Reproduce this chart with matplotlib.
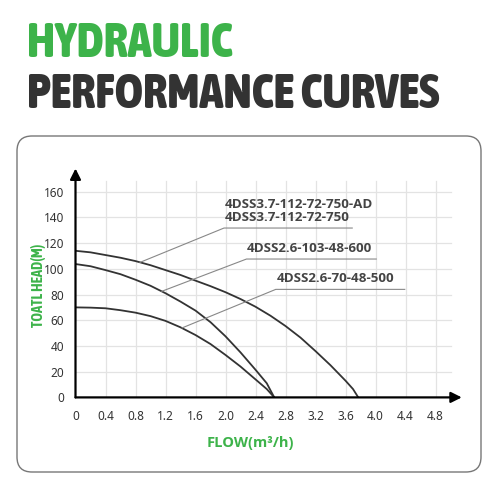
import numpy as np
import matplotlib
matplotlib.use('Agg')
import matplotlib.pyplot as plt
from matplotlib import font_manager
from matplotlib.font_manager import FontProperties
from matplotlib.textpath import TextPath
from matplotlib.patches import FancyBboxPatch

flow_a = [0, 0.2, 0.4, 0.6, 0.8, 1.0, 1.2, 1.4, 1.6, 1.8, 2.0, 2.2, 2.4, 2.6, 2.8, 3.0, 3.2, 3.4, 3.6, 3.7, 3.77]
head_a = [114, 112.8, 110.7, 108.6, 106, 102.8, 99, 95.2, 90.8, 86.5, 81.8, 76.5, 70.5, 63.5, 55.5, 46.5, 36, 25, 13, 6.5, 0]
flow_b = [0, 0.2, 0.4, 0.6, 0.8, 1.0, 1.2, 1.4, 1.6, 1.8, 2.0, 2.2, 2.4, 2.55, 2.65]
head_b = [103.7, 102, 99, 95.8, 91.5, 86.8, 81, 74.5, 67.5, 58.5, 47.5, 35, 21.5, 11, 0]
flow_c = [0, 0.2, 0.4, 0.6, 0.8, 1.0, 1.2, 1.4, 1.6, 1.8, 2.0, 2.2, 2.4, 2.55, 2.65]
head_c = [70, 69.8, 69.3, 67.8, 65.9, 63.2, 59.5, 54.5, 48.5, 41.5, 33, 24, 14, 6.5, 0]

labels = ['4DSS3.7-112-72-750-AD\n4DSS3.7-112-72-750', '4DSS2.6-103-48-600', '4DSS2.6-70-48-500']
lead_start = [(0.86, 105), (1.15, 82.5), (1.42, 54)]
lead_elbow = [(1.98, 131.7), (2.28, 107.6), (2.67, 84)]
lead_end = [3.69, 4.01, 4.39]

x_ticks = [0, 0.4, 0.8, 1.2, 1.6, 2.0, 2.4, 2.8, 3.2, 3.6, 4.0, 4.4, 4.8]
x_ticklabels = ['0', '0.4', '0.8', '1.2', '1.6', '2.0', '2.4', '2.8', '3.2', '3.6', '4.0', '4.4', '4.8']
y_ticks = [0, 20, 40, 60, 80, 100, 120, 140, 160]

green = '#3db34a'
dark = '#333333'


def wt(w):
    if isinstance(w, str):
        return font_manager.weight_dict.get(w, 400)
    return w


def pick_family(cands, min_weight=600):
    for c in cands:
        for f in font_manager.fontManager.ttflist:
            if f.name == c and wt(f.weight) >= min_weight:
                return c
    return 'DejaVu Sans'


def text_len_px(s, fam, weight, size):
    tp = TextPath((0, 0), s, size=size, prop=FontProperties(family=fam, weight=weight))
    return tp.get_extents().width * 100 / 72


# condensed bold for the title if there is one, else Roboto
title_fam = None
for f in font_manager.fontManager.ttflist:
    if ('Condensed' in f.name or 'Narrow' in f.name) and wt(f.weight) >= 700:
        title_fam = f.name
        break
if title_fam is None:
    title_fam = pick_family(['Roboto', 'Liberation Sans', 'DejaVu Sans'], 700)
label_fam = pick_family(['Noto Sans', 'Open Sans', 'Lato', 'Roboto'], 600)

fig = plt.figure(figsize=(5, 5), dpi=100)
r = fig.canvas.get_renderer()

# titles: fit the width of "HYDRAULIC" to the reference
t1 = fig.text(27/500, 1-43.5/500, 'HYDRAULIC', color=green, fontsize=30, fontweight='heavy',
              family=title_fam, ha='left', va='center')
t2 = fig.text(27/500, 1-95/500, 'PERFORMANCE CURVES', color=dark, fontsize=30, fontweight='heavy',
              family=title_fam, ha='left', va='center')
w1 = t1.get_window_extent(r).width
w2 = t2.get_window_extent(r).width
size = 30 * min(206 / w1, 421 / w2)
t1.set_fontsize(size)
t2.set_fontsize(size)

# rounded frame
frame = FancyBboxPatch((17/500, 1-472/500), (481-17)/500, (472-136)/500,
                       boxstyle='round,pad=0,rounding_size=0.03', transform=fig.transFigure,
                       fc='none', ec='#777777', lw=1.0)
fig.add_artist(frame)

ax = fig.add_axes([75.5/500, 1-397.4/500, 5.2*75/500, 180*1.286/500])
ax.set_xlim(0, 5.2)
ax.set_ylim(0, 180)
for s in ax.spines.values():
    s.set_visible(False)

# grid
for xv in x_ticks[1:]:
    ax.plot([xv, xv], [0, 168], color='#e3e3e3', lw=0.9, zorder=0)
for yv in y_ticks[1:]:
    ax.plot([0, 5.0], [yv, yv], color='#e3e3e3', lw=0.9, zorder=0)

ax.plot(flow_a, head_a, color=dark, lw=1.3)
ax.plot(flow_b, head_b, color=dark, lw=1.3)
ax.plot(flow_c, head_c, color=dark, lw=1.3)

for i in range(3):
    xs = [lead_start[i][0], lead_elbow[i][0], lead_end[i]]
    ys = [lead_start[i][1], lead_elbow[i][1], lead_elbow[i][1]]
    ax.plot(xs, ys, color='#888888', lw=0.8)
    ax.text(lead_elbow[i][0] + 0.01, lead_elbow[i][1] + 3.5, labels[i], color='#444444',
            fontsize=9.6, fontweight='bold', family=label_fam, ha='left', va='bottom',
            linespacing=1.0)

# axes with arrows
ax.annotate('', xy=(0, 178), xytext=(0, 0), annotation_clip=False,
            arrowprops=dict(arrowstyle='-|>', color='black', lw=1.6, shrinkA=0, shrinkB=0, mutation_scale=16))
ax.annotate('', xy=(5.15, 0), xytext=(0, 0), annotation_clip=False,
            arrowprops=dict(arrowstyle='-|>', color='black', lw=1.6, shrinkA=0, shrinkB=0, mutation_scale=16))

ax.set_xticks(x_ticks)
ax.set_xticklabels(x_ticklabels)
ax.set_yticks(y_ticks)
ax.tick_params(length=0, labelsize=8.5, colors=dark)
ax.tick_params(axis='y', pad=8)
ax.tick_params(axis='x', pad=9)
for t in ax.get_xticklabels() + ax.get_yticklabels():
    t.set_family('Noto Sans')

# y label: fit its length to the reference (about 86 px)
ylab = 'TOATL HEAD(M)'
ysize = 10 * 86 / text_len_px(ylab, title_fam, 'bold', 10)
ysize = min(ysize, 10.5)
fig.text(38/500, 1-285/500, ylab, rotation=90, color=green, fontsize=ysize,
         fontweight='bold', family=title_fam, ha='center', va='center')
fig.text(250/500, 1-443/500, 'FLOW(m³/h)', color=green, fontsize=10.5,
         fontweight='bold', family=label_fam, ha='center', va='center')

fig.savefig('out.png', dpi=100)
